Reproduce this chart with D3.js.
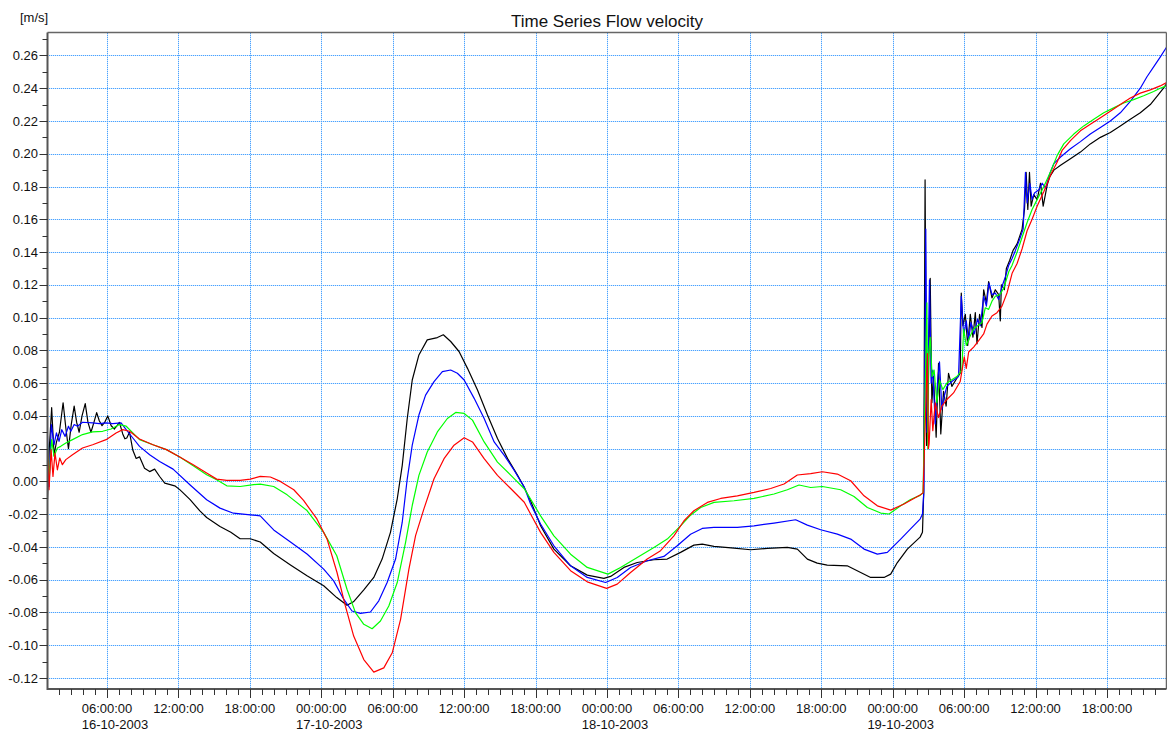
<!DOCTYPE html>
<html>
<head>
<meta charset="utf-8">
<script src="https://cdn.jsdelivr.net/npm/d3@7"></script>
<style>
  body { margin: 0; background: #fff; }
  svg { display: block; font-family: "Liberation Sans", Arial, sans-serif; }
</style>
</head>
<body>
<svg id="chart" width="1167" height="734"></svg>
<script>
// hours counted from 16-10-2003 00:00, value in m/s
var blackData = [[1.0,-0.011],[1.15,0.02],[1.35,0.045],[1.55,0.016],[1.75,0.024],[2.0,0.03],[2.31,0.048],[2.55,0.032],[2.76,0.020],[3.0,0.035],[3.24,0.046],[3.45,0.036],[3.66,0.030],[3.9,0.04],[4.17,0.0475],[4.4,0.036],[4.65,0.030],[4.9,0.036],[5.13,0.042],[5.35,0.037],[5.58,0.034],[5.8,0.036],[6.06,0.040],[6.35,0.034],[6.62,0.032],[6.85,0.034],[7.04,0.036],[7.32,0.029],[7.5,0.026],[7.66,0.0265],[7.89,0.030],[8.17,0.019],[8.45,0.014],[8.73,0.015],[9.15,0.008],[9.58,0.006],[10.0,0.0075],[10.42,0.003],[10.85,-0.001],[11.69,-0.0027],[12.11,-0.005],[12.96,-0.011],[13.8,-0.018],[14.37,-0.022],[15.49,-0.0275],[16.4,-0.031],[17.18,-0.035],[18.03,-0.035],[18.87,-0.037],[20.0,-0.044],[21.41,-0.051],[22.8,-0.0576],[24.2,-0.0637],[25.3,-0.0709],[26.16,-0.0756],[26.7,-0.0735],[27.57,-0.0662],[28.41,-0.0586],[29.11,-0.0474],[29.81,-0.0311],[30.38,-0.0106],[30.8,0.0098],[31.22,0.0384],[31.64,0.0619],[32.2,0.0772],[32.9,0.0864],[33.75,0.0878],[34.25,0.0895],[34.87,0.0854],[35.57,0.0793],[36.28,0.069],[37.12,0.0558],[37.96,0.0405],[38.8,0.0262],[39.65,0.0139],[40.49,0.0037],[41.0,-0.003],[41.58,-0.0118],[42.42,-0.0271],[43.54,-0.0413],[44.94,-0.0515],[46.34,-0.0572],[47.74,-0.0592],[48.3,-0.058],[49.42,-0.0525],[50.54,-0.0495],[51.94,-0.0478],[53.06,-0.0474],[54.18,-0.0433],[55.3,-0.0389],[56.0,-0.0383],[56.98,-0.0397],[58.67,-0.0407],[60.07,-0.0417],[61.47,-0.0409],[63.15,-0.0403],[63.99,-0.0413],[64.83,-0.0474],[65.66,-0.0499],[66.5,-0.0511],[68.18,-0.0515],[69.31,-0.0556],[70.15,-0.0586],[71.27,-0.0586],[71.83,-0.0566],[72.39,-0.0495],[73.23,-0.0413],[74.3,-0.034],[74.5,-0.031],[74.6,-0.008],[74.72,0.184],[74.85,0.022],[75.0,0.06],[75.15,0.124],[75.29,0.048],[75.43,0.064],[75.65,0.027],[75.85,0.072],[76.04,0.029],[76.27,0.055],[76.49,0.046],[76.69,0.066],[76.97,0.058],[77.39,0.063],[77.67,0.066],[77.76,0.115],[77.9,0.095],[78.1,0.102],[78.3,0.083],[78.52,0.102],[78.74,0.088],[78.94,0.103],[79.08,0.084],[79.3,0.102],[79.5,0.094],[79.64,0.117],[79.87,0.109],[80.06,0.122],[80.34,0.112],[80.62,0.117],[80.9,0.114],[81.04,0.098],[81.13,0.12],[81.38,0.117],[81.55,0.13],[81.83,0.135],[82.11,0.141],[82.45,0.145],[82.87,0.154],[83.07,0.166],[83.21,0.1886],[83.35,0.166],[83.49,0.1886],[83.63,0.168],[83.85,0.175],[84.13,0.172],[84.42,0.182],[84.64,0.168],[84.98,0.181],[85.2,0.186],[85.54,0.19],[86.1,0.193],[86.93,0.197],[87.77,0.201],[88.6,0.206],[89.45,0.21],[90.28,0.213],[91.12,0.217],[91.96,0.221],[92.8,0.225],[93.64,0.23],[94.2,0.235],[94.75,0.24],[95.0,0.2426]];

var blueData = [[1.0,0.0275],[1.13,-0.0031],[1.32,0.0347],[1.55,0.0224],[1.75,0.0296],[1.97,0.0245],[2.2,0.0316],[2.48,0.0275],[2.76,0.0337],[2.96,0.0306],[3.24,0.0347],[3.52,0.0337],[3.94,0.0361],[4.79,0.0357],[5.35,0.0353],[5.92,0.0357],[6.48,0.0353],[7.18,0.0357],[7.61,0.0316],[8.17,0.0265],[8.73,0.0214],[9.58,0.0163],[10.42,0.0122],[11.55,0.0075],[12.96,-0.002],[14.37,-0.0112],[15.49,-0.0163],[16.62,-0.0194],[18.03,-0.0204],[18.87,-0.021],[20.0,-0.0296],[21.41,-0.037],[22.8,-0.0443],[24.2,-0.0535],[25.04,-0.0607],[25.88,-0.0719],[26.58,-0.0791],[27.29,-0.0805],[28.13,-0.0797],[28.83,-0.0729],[29.53,-0.0617],[30.24,-0.0474],[30.8,-0.0249],[31.22,0.0016],[31.64,0.0221],[32.2,0.0405],[32.76,0.0527],[33.47,0.0609],[34.17,0.067],[34.87,0.068],[35.43,0.066],[36.0,0.0619],[36.84,0.0507],[37.68,0.0384],[38.52,0.0241],[39.37,0.0159],[40.21,0.0067],[41.05,-0.0035],[41.58,-0.0138],[42.42,-0.026],[43.54,-0.0393],[44.94,-0.0515],[46.34,-0.0586],[47.88,-0.0617],[48.86,-0.0586],[49.98,-0.0525],[51.38,-0.0484],[52.78,-0.0458],[53.9,-0.0393],[55.02,-0.0322],[56.0,-0.0287],[56.98,-0.0281],[58.95,-0.0281],[60.35,-0.0271],[62.03,-0.0254],[63.85,-0.0234],[64.83,-0.0267],[65.95,-0.0295],[67.35,-0.0322],[68.47,-0.0352],[69.59,-0.0413],[70.71,-0.0444],[71.55,-0.0433],[72.67,-0.0352],[73.5,-0.029],[74.3,-0.023],[74.5,-0.02],[74.62,-0.006],[74.78,0.154],[74.88,0.03],[75.09,0.123],[75.23,0.06],[75.37,0.068],[75.57,0.035],[75.76,0.06],[75.93,0.073],[76.13,0.044],[76.33,0.052],[76.55,0.058],[76.97,0.061],[77.53,0.064],[77.76,0.113],[77.96,0.089],[78.18,0.098],[78.38,0.086],[78.57,0.097],[78.85,0.09],[79.13,0.099],[79.36,0.095],[79.64,0.113],[79.87,0.107],[80.09,0.121],[80.34,0.114],[80.62,0.115],[80.9,0.111],[81.18,0.119],[81.47,0.125],[81.75,0.132],[82.03,0.136],[82.31,0.141],[82.67,0.148],[82.96,0.154],[83.15,0.1886],[83.29,0.17],[83.52,0.182],[83.71,0.172],[83.91,0.176],[84.28,0.178],[84.56,0.182],[84.84,0.179],[85.2,0.188],[85.54,0.194],[86.1,0.198],[86.93,0.203],[87.77,0.2074],[88.6,0.212],[89.45,0.216],[90.28,0.22],[91.12,0.225],[91.96,0.232],[92.8,0.24],[93.36,0.247],[93.92,0.253],[94.47,0.259],[95.0,0.265]];

var greenData = [[1.0,0.0235],[1.13,0.001],[1.35,0.0255],[1.55,0.0153],[1.83,0.0204],[2.11,0.0214],[2.54,0.0235],[3.1,0.0255],[3.94,0.0286],[4.79,0.0302],[5.63,0.0306],[6.34,0.032],[7.04,0.0347],[7.61,0.0337],[8.17,0.0296],[8.73,0.0255],[9.86,0.0224],[10.99,0.0194],[12.11,0.0149],[13.24,0.0096],[14.37,0.0041],[15.21,0.001],[16.06,-0.0027],[17.18,-0.0031],[18.31,-0.002],[18.87,-0.0016],[20.0,-0.0031],[21.13,-0.0082],[22.8,-0.0178],[24.2,-0.0311],[25.3,-0.0454],[26.16,-0.0658],[26.87,-0.0801],[27.57,-0.0872],[28.27,-0.0899],[28.97,-0.0852],[29.67,-0.076],[30.38,-0.0617],[31.08,-0.0372],[31.64,-0.0147],[32.2,0.0037],[32.9,0.018],[33.75,0.0302],[34.59,0.0384],[35.29,0.0421],[36.0,0.0415],[36.7,0.0374],[37.68,0.0241],[38.8,0.0118],[39.93,0.0037],[41.05,-0.0045],[41.58,-0.0108],[42.42,-0.021],[43.54,-0.0332],[44.94,-0.0444],[46.34,-0.0525],[48.08,-0.0566],[49.14,-0.0525],[50.54,-0.0464],[51.94,-0.0403],[53.06,-0.0352],[54.18,-0.0271],[55.02,-0.0206],[55.87,-0.0159],[56.99,-0.0128],[58.67,-0.0118],[60.35,-0.0104],[62.03,-0.0077],[63.15,-0.0051],[64.13,-0.0022],[65.11,-0.0037],[66.09,-0.0031],[67.63,-0.0051],[68.75,-0.0092],[69.87,-0.0159],[70.99,-0.0193],[71.69,-0.0199],[72.67,-0.0149],[73.5,-0.011],[74.3,-0.0085],[74.55,-0.007],[74.87,0.109],[74.95,0.02],[75.0,0.076],[75.15,0.088],[75.31,0.064],[75.48,0.068],[75.71,0.048],[75.93,0.062],[76.21,0.056],[76.55,0.06],[76.97,0.062],[77.39,0.064],[77.81,0.068],[77.96,0.093],[78.18,0.083],[78.46,0.088],[78.8,0.093],[79.13,0.095],[79.5,0.097],[79.78,0.106],[80.06,0.105],[80.34,0.11],[80.62,0.113],[80.99,0.114],[81.33,0.118],[81.75,0.128],[82.03,0.132],[82.45,0.14],[82.87,0.149],[83.29,0.158],[83.71,0.166],[84.13,0.172],[84.7,0.18],[85.26,0.189],[85.82,0.199],[86.37,0.206],[87.21,0.212],[88.05,0.217],[88.89,0.221],[89.73,0.225],[90.56,0.228],[91.4,0.231],[92.24,0.233],[93.08,0.2354],[93.92,0.238],[94.47,0.24],[95.0,0.2414]];

var redData = [[1.0,0.0204],[1.13,-0.0051],[1.3,0.0194],[1.46,0.0031],[1.63,0.0173],[1.83,0.0071],[2.03,0.0143],[2.25,0.0102],[2.54,0.0133],[3.1,0.0163],[3.94,0.0204],[4.79,0.0224],[5.92,0.0255],[6.76,0.0296],[7.32,0.0316],[7.89,0.0306],[8.73,0.0259],[9.86,0.0224],[10.99,0.0194],[12.11,0.0149],[13.24,0.0102],[14.37,0.0051],[15.21,0.0014],[16.06,0.0006],[17.18,0.0006],[18.03,0.0014],[18.87,0.0031],[19.72,0.0027],[20.56,0.0],[21.69,-0.0051],[22.51,-0.0116],[23.63,-0.0229],[24.48,-0.0351],[25.32,-0.0556],[26.02,-0.076],[26.72,-0.0944],[27.57,-0.1087],[28.41,-0.1164],[29.25,-0.1138],[29.96,-0.1046],[30.66,-0.0842],[31.36,-0.0535],[31.92,-0.0331],[32.62,-0.0168],[33.47,0.0016],[34.31,0.0139],[35.15,0.0221],[36.0,0.0266],[36.7,0.0241],[37.68,0.0139],[38.8,0.0037],[39.93,-0.0045],[41.05,-0.0127],[41.58,-0.0199],[42.42,-0.0311],[43.54,-0.0433],[44.94,-0.0545],[46.34,-0.0613],[47.97,-0.0653],[48.86,-0.0627],[49.98,-0.0556],[51.38,-0.0474],[52.5,-0.0423],[53.62,-0.0332],[54.47,-0.024],[55.3,-0.0179],[56.43,-0.0128],[57.55,-0.0104],[58.95,-0.0088],[60.35,-0.0067],[61.75,-0.0043],[62.87,-0.0016],[63.99,0.0039],[65.11,0.0047],[66.09,0.0059],[67.35,0.0045],[68.47,0.0004],[69.59,-0.0088],[70.71,-0.0149],[71.83,-0.0175],[72.95,-0.0138],[74.3,-0.0083],[74.55,-0.007],[74.92,0.078],[75.0,0.02],[75.06,0.023],[75.23,0.05],[75.37,0.031],[75.57,0.048],[75.85,0.039],[76.13,0.046],[76.55,0.05],[77.11,0.054],[77.67,0.061],[78.01,0.076],[78.18,0.069],[78.38,0.079],[78.8,0.082],[79.22,0.086],[79.64,0.09],[79.92,0.096],[80.34,0.101],[80.76,0.103],[81.18,0.107],[81.6,0.115],[82.03,0.127],[82.45,0.133],[82.87,0.142],[83.29,0.153],[83.71,0.16],[84.13,0.168],[84.7,0.177],[85.26,0.187],[85.82,0.195],[86.23,0.202],[86.93,0.208],[87.77,0.214],[88.6,0.218],[89.45,0.222],[90.28,0.226],[91.12,0.23],[91.96,0.234],[92.8,0.237],[93.64,0.239],[94.47,0.2414],[95.0,0.2434]];

var seriesColors = ["#000000", "#0000ff", "#00ff00", "#ff0000"];
var seriesList = [blackData, blueData, greenData, redData];

var title = "Time Series Flow velocity";
var unitLabel = "[m/s]";
var yMajorTicks = d3.range(-12, 27, 2).map(function(d) { return d / 100; });
var yMinorTicks = d3.range(-12, 28, 1).map(function(d) { return d / 100; });

var t0 = Date.UTC(2003, 9, 16);
function toDate(h) { return new Date(t0 + h * 3600000); }

var svg = d3.select("#chart");
var plotLeft = 47.5, plotRight = 1166.5, plotTop = 32.5, plotBottom = 689;

var x = d3.scaleUtc()
  .domain([toDate(1), toDate(95)])
  .range([plotLeft, plotRight]);

var y = d3.scaleLinear()
  .domain([-0.1267, 0.274])
  .range([plotBottom, plotTop]);

var loc = d3.formatLocale({decimal: ".", thousands: ",", grouping: [3], currency: ["", ""], minus: "-"});
var fmtY = loc.format(".2f");
var fmtTime = d3.utcFormat("%H:%M:%S");
var fmtDate = d3.utcFormat("%d-%m-%Y");

var majorX = d3.utcHour.every(6).range(toDate(1), toDate(95.01));
var minorX = d3.utcHour.every(1).range(toDate(1.5), toDate(95.01));

// grid: pale blue line with blue dots on top, like the original dotted grid
function drawGrid(g) {
  g.selectAll("line.gx")
    .data(majorX)
    .enter()
      .append("line")
      .attr("x1", function(d) { return Math.round(x(d)) + 0.5; })
      .attr("x2", function(d) { return Math.round(x(d)) + 0.5; })
      .attr("y1", 33)
      .attr("y2", plotBottom);

  g.selectAll("line.gy")
    .data(yMajorTicks)
    .enter()
      .append("line")
      .attr("x1", 49)
      .attr("x2", plotRight)
      .attr("y1", function(d) { return Math.round(y(d)) + 0.5; })
      .attr("y2", function(d) { return Math.round(y(d)) + 0.5; });
}

svg.append("g")
  .attr("stroke", "#cfe6ff")
  .attr("stroke-width", 1)
  .attr("shape-rendering", "crispEdges")
  .call(drawGrid);

svg.append("g")
  .attr("stroke", "#4aa3ff")
  .attr("stroke-width", 1)
  .attr("stroke-dasharray", "1,1")
  .attr("shape-rendering", "crispEdges")
  .call(drawGrid);

// series
svg.append("clipPath").attr("id", "clip")
  .append("rect")
  .attr("x", plotLeft).attr("y", plotTop)
  .attr("width", plotRight - plotLeft).attr("height", plotBottom - plotTop);

var line = d3.line()
  .x(function(d) { return x(toDate(d[0])); })
  .y(function(d) { return y(d[1]); });

svg.append("g")
  .attr("clip-path", "url(#clip)")
  .selectAll("path")
  .data(seriesList)
  .enter()
    .append("path")
    .attr("d", line)
    .attr("fill", "none")
    .attr("stroke", function(d, i) { return seriesColors[i]; })
    .attr("stroke-width", 1.2)
    .attr("stroke-linejoin", "round");

// frame
svg.append("line")
  .attr("x1", plotLeft).attr("x2", plotRight)
  .attr("y1", plotTop).attr("y2", plotTop)
  .attr("stroke", "#666").attr("stroke-width", 1.5);
svg.append("line")
  .attr("x1", plotRight).attr("x2", plotRight)
  .attr("y1", plotTop).attr("y2", plotBottom)
  .attr("stroke", "#666").attr("stroke-width", 1.5);
svg.append("line")
  .attr("x1", plotLeft).attr("x2", plotLeft)
  .attr("y1", plotTop).attr("y2", plotBottom + 1)
  .attr("stroke", "#555").attr("stroke-width", 2);
svg.append("line")
  .attr("x1", plotLeft).attr("x2", plotRight)
  .attr("y1", plotBottom).attr("y2", plotBottom)
  .attr("stroke", "#555").attr("stroke-width", 2);

// y ticks
var yAxis = svg.append("g");
yAxis.selectAll("line.minor")
  .data(yMinorTicks)
  .enter()
    .append("line")
    .attr("x1", plotLeft - 5).attr("x2", plotLeft)
    .attr("y1", function(d) { return Math.round(y(d)) + 0.5; })
    .attr("y2", function(d) { return Math.round(y(d)) + 0.5; })
    .attr("stroke", "#333");
yAxis.selectAll("line.major")
  .data(yMajorTicks)
  .enter()
    .append("line")
    .attr("x1", plotLeft - 8).attr("x2", plotLeft)
    .attr("y1", function(d) { return Math.round(y(d)) + 0.5; })
    .attr("y2", function(d) { return Math.round(y(d)) + 0.5; })
    .attr("stroke", "#333");
yAxis.selectAll("text")
  .data(yMajorTicks)
  .enter()
    .append("text")
    .attr("x", 38)
    .attr("y", function(d) { return y(d); })
    .attr("dy", "0.35em")
    .attr("text-anchor", "end")
    .attr("font-size", 13)
    .attr("fill", "#111")
    .text(fmtY);

// x ticks
var xAxis = svg.append("g");
xAxis.selectAll("line.minor")
  .data(minorX)
  .enter()
    .append("line")
    .attr("x1", function(d) { return Math.round(x(d)) + 0.5; })
    .attr("x2", function(d) { return Math.round(x(d)) + 0.5; })
    .attr("y1", plotBottom).attr("y2", plotBottom + 6)
    .attr("stroke", "#333");
xAxis.selectAll("line.major")
  .data(majorX)
  .enter()
    .append("line")
    .attr("x1", function(d) { return Math.round(x(d)) + 0.5; })
    .attr("x2", function(d) { return Math.round(x(d)) + 0.5; })
    .attr("y1", plotBottom).attr("y2", plotBottom + 9)
    .attr("stroke", "#333");

majorX.forEach(function(d, i) {
  var tx = xAxis.append("text")
    .attr("x", x(d))
    .attr("y", 713)
    .attr("text-anchor", "middle")
    .attr("font-size", 13)
    .attr("fill", "#111")
    .text(fmtTime(d));
  if (i === 0 || d.getUTCHours() === 0) {
    var w = tx.node().getComputedTextLength();
    xAxis.append("text")
      .attr("x", x(d) - w / 2)
      .attr("y", 729)
      .attr("font-size", 13)
      .attr("fill", "#111")
      .text(fmtDate(d));
  }
});

// labels
svg.append("text")
  .attr("x", (plotLeft + plotRight) / 2)
  .attr("y", 26.5)
  .attr("text-anchor", "middle")
  .attr("font-size", 17)
  .attr("fill", "#111")
  .text(title);

svg.append("text")
  .attr("x", 20)
  .attr("y", 21.5)
  .attr("font-size", 13)
  .attr("fill", "#111")
  .text(unitLabel);
</script>
</body>
</html>
